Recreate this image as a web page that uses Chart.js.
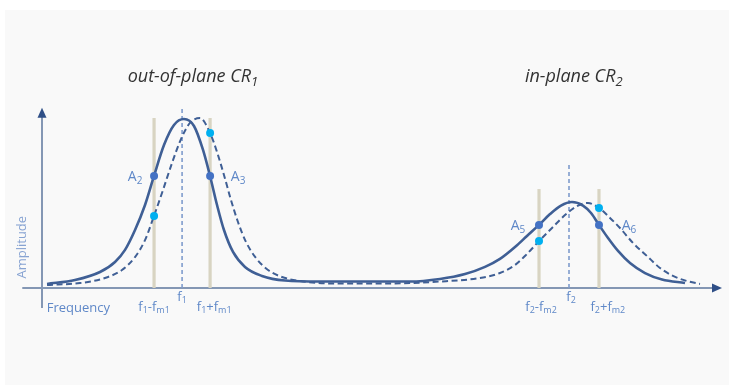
<!DOCTYPE html>
<html>
<head>
<meta charset="utf-8">
<script src="https://cdn.jsdelivr.net/npm/chart.js@4.4.1/dist/chart.umd.min.js"></script>
<style>
  html, body { margin: 0; padding: 0; background: #fff; }
  #panel { position: absolute; left: 5px; top: 10px; right: 0; bottom: 0; background: #f9f9f9; }
  #wrap { position: absolute; left: 0; top: 0; width: 729px; height: 385px; }
</style>
</head>
<body>
<div id="panel"></div>
<div id="wrap"><canvas id="resonance_chart" width="729" height="385"></canvas></div>
<script>
// reference curve (solid) and shifted curve (dashed), frequency in arb. units, amplitude normalised
var freqSolid = [0.74, 4.85, 8.53, 10.74, 12.21, 13.68, 15.15, 16.47, 17.94, 19.41, 20.88, 22.35, 23.68, 24.71, 25.74, 26.76, 28.09, 29.85, 32.35, 35.74, 40.88, 54.12, 58.53, 62.21, 65.15, 67.35, 69.56, 71.32, 73.09, 74.71, 76.32, 77.94, 79.56, 80.74, 81.91, 83.24, 84.71, 86.47, 88.68, 91.18, 94.56];
var ampSolid = [0.024, 0.047, 0.094, 0.153, 0.224, 0.341, 0.488, 0.659, 0.841, 0.959, 0.994, 0.953, 0.812, 0.659, 0.488, 0.341, 0.212, 0.124, 0.071, 0.044, 0.038, 0.038, 0.053, 0.082, 0.124, 0.171, 0.241, 0.306, 0.371, 0.435, 0.485, 0.506, 0.485, 0.441, 0.371, 0.294, 0.218, 0.147, 0.088, 0.050, 0.029];
var freqDashed = [0.74, 5.59, 9.26, 11.76, 13.68, 15.15, 16.47, 17.79, 19.12, 20.44, 21.76, 23.24, 24.71, 25.74, 26.76, 27.79, 28.82, 30.00, 31.47, 33.24, 35.29, 37.94, 43.82, 49.71, 58.53, 64.41, 67.35, 69.56, 71.32, 73.09, 75.00, 76.91, 78.68, 80.29, 81.91, 83.53, 85.00, 86.91, 88.97, 90.88, 92.79, 94.85, 96.76];
var ampDashed = [0.018, 0.029, 0.059, 0.106, 0.182, 0.282, 0.424, 0.576, 0.735, 0.876, 0.971, 1.000, 0.912, 0.800, 0.665, 0.518, 0.388, 0.271, 0.176, 0.106, 0.065, 0.041, 0.026, 0.026, 0.038, 0.059, 0.088, 0.135, 0.200, 0.276, 0.353, 0.429, 0.482, 0.500, 0.471, 0.412, 0.353, 0.265, 0.188, 0.118, 0.071, 0.041, 0.024];

// resonances and modulation sidebands
var f1 = 20.6, fm1 = 4.12;
var f2 = 77.5, fm2 = 4.41;
var sidebandTop = [1.0, 1.0, 0.582, 0.582];
var centerFreq = [f1, f2];
var centerTop = [1.06, 0.724];

// sampled amplitudes at the sidebands
var markerFreq = [f1 - fm1, f1 + fm1, f2 - fm2, f2 + fm2];
var ampRef = [0.659, 0.659, 0.371, 0.371];
var ampShift = [0.424, 0.912, 0.276, 0.471];
var markerNames = ["2", "3", "5", "6"];
var markerSide = [-1, 1, -1, 1];

// tick labels under the frequency axis: [text, isSubscript]
var tickLabels = [
    { value: f1 - fm1, row: 2, segs: [["f", 0], ["1", 1], ["-f", 0], ["m1", 1]] },
    { value: f1, row: 1, segs: [["f", 0], ["1", 1]] },
    { value: f1 + fm1 + 0.6, row: 2, segs: [["f", 0], ["1", 1], ["+f", 0], ["m1", 1]] },
    { value: f2 - fm2 + 0.3, row: 2, segs: [["f", 0], ["2", 1], ["-f", 0], ["m2", 1]] },
    { value: f2 + 0.3, row: 1, segs: [["f", 0], ["2", 1]] },
    { value: f2 + fm2 + 1.3, row: 2, segs: [["f", 0], ["2", 1], ["+f", 0], ["m2", 1]] }
];
var titles = [
    { value: f1 + 1.6, segs: [["out-of-plane CR", 0], ["1", 1]] },
    { value: f2 + 0.7, segs: [["in-plane CR", 0], ["2", 1]] }
];

var lineColor = "#3f5f95";
var textBlue = "#5f88c8";

var drawRich = (ctx, segs, cx, cy, size, color, style = "") => {
    var fontFor = (sub) => style + " " + (sub ? Math.round(size * 0.72) : size) + "px 'Open Sans', sans-serif";
    var total = 0;
    segs.forEach((s) => { ctx.font = fontFor(s[1]); total += ctx.measureText(s[0]).width; });
    var x = cx - total / 2;
    ctx.fillStyle = color;
    ctx.textBaseline = "middle";
    ctx.textAlign = "left";
    segs.forEach((s) => {
        ctx.font = fontFor(s[1]);
        ctx.fillText(s[0], x, cy + (s[1] ? size * 0.3 : 0));
        x += ctx.measureText(s[0]).width;
    });
};

var arrowHead = (ctx, x, y, dir) => {
    ctx.beginPath();
    if (dir == "right") {
        ctx.moveTo(x, y); ctx.lineTo(x - 10, y - 4.5); ctx.lineTo(x - 10, y + 4.5);
    } else {
        ctx.moveTo(x, y); ctx.lineTo(x - 4.5, y + 10); ctx.lineTo(x + 4.5, y + 10);
    }
    ctx.closePath();
    ctx.fillStyle = "#2f4f87";
    ctx.fill();
};

var axesPlugin = {
    id: "axesPlugin",
    beforeDatasetsDraw(chart) {
        var ctx = chart.ctx, xs = chart.scales.x, ys = chart.scales.y;
        var x0 = xs.getPixelForValue(0), y0 = ys.getPixelForValue(0);
        ctx.save();
        ctx.strokeStyle = "#8497b4";
        ctx.lineWidth = 2;
        ctx.beginPath();
        ctx.moveTo(xs.getPixelForValue(-2.9), y0);
        ctx.lineTo(xs.getPixelForValue(100) - 8, y0);
        ctx.moveTo(x0, ys.getPixelForValue(-0.118));
        ctx.lineTo(x0, ys.getPixelForValue(1.06) + 8);
        ctx.stroke();
        arrowHead(ctx, xs.getPixelForValue(100), y0, "right");
        arrowHead(ctx, x0, ys.getPixelForValue(1.06), "up");
        ctx.restore();
    },
    afterDatasetsDraw(chart) {
        var ctx = chart.ctx, xs = chart.scales.x, ys = chart.scales.y;
        var y0 = ys.getPixelForValue(0);
        ctx.save();
        tickLabels.forEach((t) => {
            drawRich(ctx, t.segs, xs.getPixelForValue(t.value), y0 + (t.row == 1 ? 9 : 19), 13, textBlue);
        });
        markerFreq.forEach((f, i) => {
            var px = xs.getPixelForValue(f) + markerSide[i] * (i < 2 ? 19 : 21) + (markerSide[i] > 0 ? 9 : 0);
            drawRich(ctx, [["A", 0], [markerNames[i], 1]], px, ys.getPixelForValue(ampRef[i]) + 1, 14, textBlue);
        });
        titles.forEach((t) => {
            drawRich(ctx, t.segs, xs.getPixelForValue(t.value), 77, 18, "#333", "italic");
        });
        ctx.font = "13px 'Open Sans', sans-serif";
        ctx.fillStyle = textBlue;
        ctx.textAlign = "left";
        ctx.textBaseline = "middle";
        ctx.fillText("Frequency", xs.getPixelForValue(0.7), y0 + 20);
        ctx.translate(22, ys.getPixelForValue(0.24));
        ctx.rotate(-Math.PI / 2);
        ctx.textAlign = "center";
        ctx.fillStyle = "#87a3d2";
        ctx.fillText("Amplitude", 0, 0);
        ctx.restore();
    }
};

var toPoints = (xs, ys) => xs.map((x, i) => ({ x: x, y: ys[i] }));

var datasets = [];
datasets.push({ data: toPoints(markerFreq, ampRef), showLine: false, pointRadius: 4, pointBackgroundColor: "#4472c4", pointBorderWidth: 0, order: 0 });
datasets.push({ data: toPoints(markerFreq, ampShift), showLine: false, pointRadius: 4, pointBackgroundColor: "#00b0f0", pointBorderWidth: 0, order: 0 });
datasets.push({ data: toPoints(freqSolid, ampSolid), borderColor: lineColor, borderWidth: 2.6, pointRadius: 0, cubicInterpolationMode: "monotone", order: 1 });
datasets.push({ data: toPoints(freqDashed, ampDashed), borderColor: lineColor, borderWidth: 2, borderDash: [6, 3.5], pointRadius: 0, cubicInterpolationMode: "monotone", order: 1 });
centerFreq.forEach((f, i) => {
    datasets.push({ data: [{ x: f, y: 0 }, { x: f, y: centerTop[i] }], borderColor: "#7f9ccc", borderWidth: 1.6, borderDash: [4, 3], pointRadius: 0, order: 2 });
});
markerFreq.forEach((f, i) => {
    datasets.push({ data: [{ x: f, y: 0 }, { x: f, y: sidebandTop[i] }], borderColor: "#d8d4c2", borderWidth: 3.2, pointRadius: 0, order: 3 });
});

new Chart(document.getElementById("resonance_chart"), {
    type: "line",
    data: { datasets: datasets },
    options: {
        responsive: false,
        devicePixelRatio: 1,
        animation: false,
        layout: { padding: { left: 42, right: 7, top: 101, bottom: 97 } },
        scales: {
            x: { type: "linear", min: 0, max: 100, display: false },
            y: { min: 0, max: 1.1, display: false }
        },
        plugins: { legend: { display: false }, tooltip: { enabled: false } }
    },
    plugins: [axesPlugin]
});
</script>
</body>
</html>
